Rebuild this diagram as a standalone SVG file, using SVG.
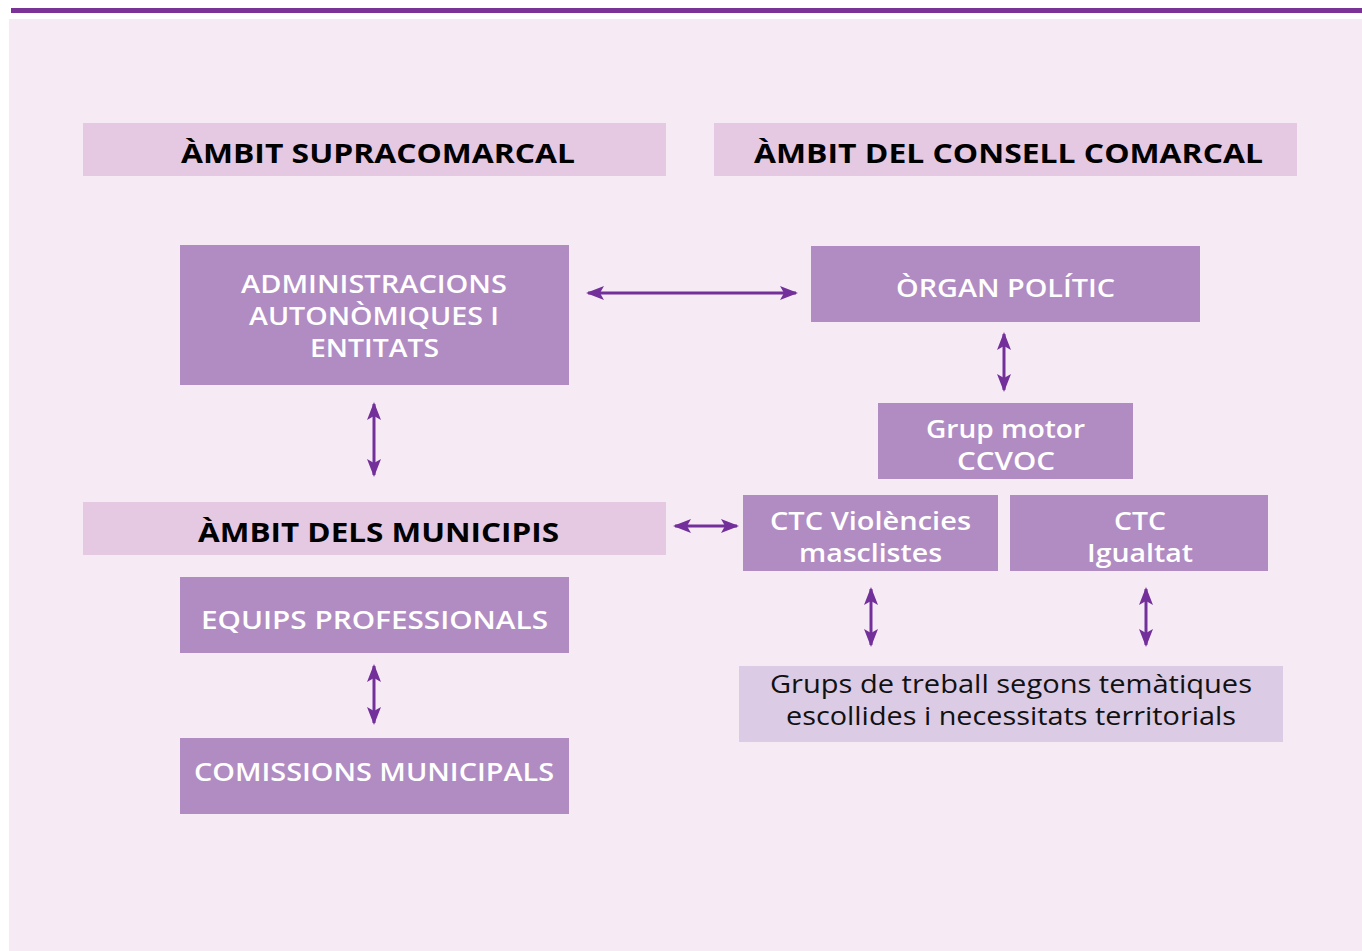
<svg xmlns="http://www.w3.org/2000/svg" width="1362" height="951" viewBox="0 0 1362 951">
<style>
.bg{fill:#f6ebf5}
.hdr{fill:#e5c8e2}
.box{fill:#b08cc3}
.lt{fill:#dccbe4}
.ht{font-family:"Open Sans","Liberation Sans",sans-serif;font-weight:700;font-size:27px;fill:#000;text-anchor:middle;dominant-baseline:central}
.bt{font-family:"Open Sans","Liberation Sans",sans-serif;font-weight:600;font-size:25px;fill:#fff;text-anchor:middle;dominant-baseline:central}
.gt{font-family:"Open Sans","Liberation Sans",sans-serif;font-weight:400;font-size:25px;fill:#111;text-anchor:middle;dominant-baseline:central}
.c{stroke:#73309a;stroke-width:3;fill:none;marker-start:url(#ah);marker-end:url(#ah)}
</style>
<defs>
<marker id="ah" viewBox="0 0 18 14" refX="16" refY="7" markerWidth="18" markerHeight="14" markerUnits="userSpaceOnUse" orient="auto-start-reverse">
<path d="M0,0 L18,7 L0,14 L4,7 z" fill="#73309a"/>
</marker>
</defs>
<rect x="0" y="0" width="1362" height="951" fill="#ffffff"/>
<rect x="11" y="8" width="1351" height="5" fill="#7b3296"/>
<rect class="bg" x="9" y="19" width="1353" height="932"/>

<g id="hdr-supra"><rect class="hdr" x="83" y="123" width="583" height="53"/><text class="ht" x="378" y="152" textLength="394" lengthAdjust="spacingAndGlyphs">ÀMBIT SUPRACOMARCAL</text></g>
<g id="hdr-consell"><rect class="hdr" x="714" y="123" width="583" height="53"/><text class="ht" x="1008.5" y="152" textLength="509" lengthAdjust="spacingAndGlyphs">ÀMBIT DEL CONSELL COMARCAL</text></g>
<g id="admin"><rect class="box" x="180" y="245" width="389" height="140"/><text class="bt" x="374" y="283" textLength="266" lengthAdjust="spacingAndGlyphs">ADMINISTRACIONS</text><text class="bt" x="374" y="315" textLength="250" lengthAdjust="spacingAndGlyphs">AUTONÒMIQUES I</text><text class="bt" x="374.5" y="347" textLength="129" lengthAdjust="spacingAndGlyphs">ENTITATS</text></g>
<g id="organ"><rect class="box" x="811" y="246" width="389" height="76"/><text class="bt" x="1005.5" y="287" textLength="219" lengthAdjust="spacingAndGlyphs">ÒRGAN POLÍTIC</text></g>
<g id="grup-motor"><rect class="box" x="878" y="403" width="255" height="76"/><text class="bt" x="1005.5" y="428" textLength="159" lengthAdjust="spacingAndGlyphs">Grup motor</text><text class="bt" x="1006" y="460" textLength="98" lengthAdjust="spacingAndGlyphs">CCVOC</text></g>
<g id="ctc-viol"><rect class="box" x="743" y="495" width="255" height="76"/><text class="bt" x="870.5" y="520" textLength="201" lengthAdjust="spacingAndGlyphs">CTC Violències</text><text class="bt" x="870.5" y="552" textLength="143" lengthAdjust="spacingAndGlyphs">masclistes</text></g>
<g id="ctc-igual"><rect class="box" x="1010" y="495" width="258" height="76"/><text class="bt" x="1140" y="520" textLength="52" lengthAdjust="spacingAndGlyphs">CTC</text><text class="bt" x="1140" y="552" textLength="106" lengthAdjust="spacingAndGlyphs">Igualtat</text></g>
<g id="hdr-munic"><rect class="hdr" x="83" y="502" width="583" height="53"/><text class="ht" x="378.5" y="531" textLength="361" lengthAdjust="spacingAndGlyphs">ÀMBIT DELS MUNICIPIS</text></g>
<g id="equips"><rect class="box" x="180" y="577" width="389" height="76"/><text class="bt" x="374.5" y="619" textLength="347" lengthAdjust="spacingAndGlyphs">EQUIPS PROFESSIONALS</text></g>
<g id="comissions"><rect class="box" x="180" y="738" width="389" height="76"/><text class="bt" x="374" y="771" textLength="360" lengthAdjust="spacingAndGlyphs">COMISSIONS MUNICIPALS</text></g>
<g id="grups-treball"><rect class="lt" x="739" y="666" width="544" height="76"/><text class="gt" x="1011" y="683" textLength="482" lengthAdjust="spacingAndGlyphs">Grups de treball segons temàtiques</text><text class="gt" x="1011" y="715" textLength="450" lengthAdjust="spacingAndGlyphs">escollides i necessitats territorials</text></g>

<g id="connectors">
<line class="c" x1="588" y1="293" x2="796" y2="293"/>
<line class="c" x1="1004" y1="334" x2="1004" y2="390"/>
<line class="c" x1="374" y1="404" x2="374" y2="475"/>
<line class="c" x1="675" y1="526" x2="737" y2="526"/>
<line class="c" x1="871" y1="589" x2="871" y2="645"/>
<line class="c" x1="1146" y1="589" x2="1146" y2="645"/>
<line class="c" x1="374" y1="666" x2="374" y2="723"/>
</g>
</svg>
